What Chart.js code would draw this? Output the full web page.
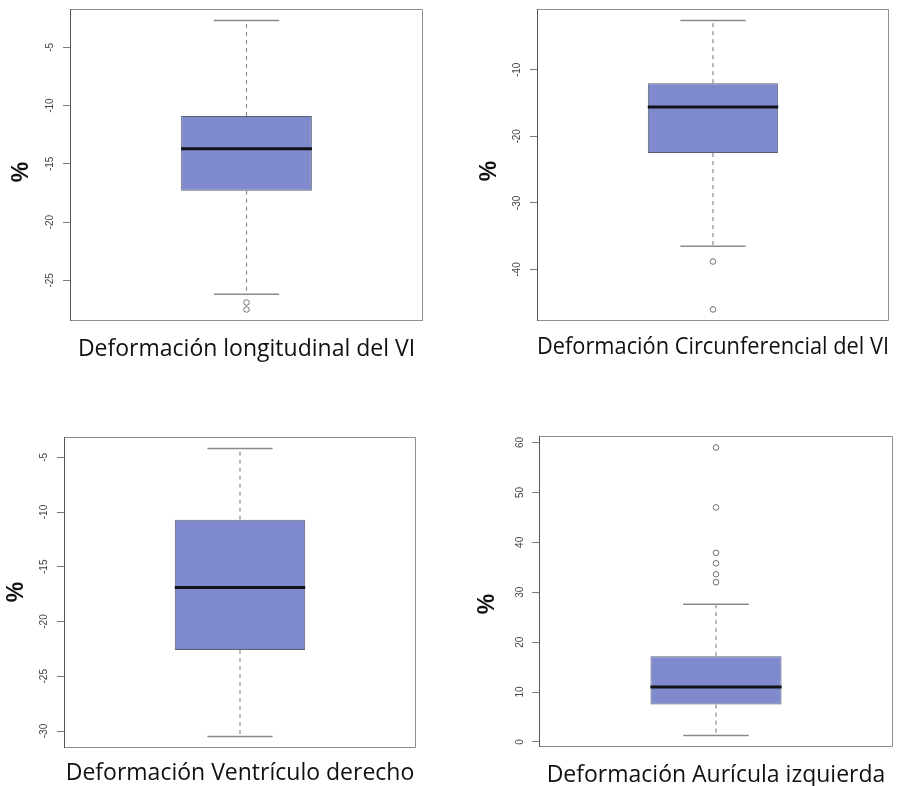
<!DOCTYPE html>
<html>
<head>
<meta charset="utf-8">
<title>Deformación miocárdica</title>
<script src="https://cdn.jsdelivr.net/npm/chart.js@4/dist/chart.umd.min.js"></script>
<style>
  html, body { margin: 0; padding: 0; background: #ffffff; }
  body { width: 911px; height: 786px; position: relative; overflow: hidden; }
  canvas { position: absolute; }
</style>
</head>
<body>
<canvas id="c0"></canvas>
<canvas id="c1"></canvas>
<canvas id="c2"></canvas>
<canvas id="c3"></canvas>
<script>
// Box-plot summaries, one entry per panel
const panelTitles = [
  'Deformación longitudinal del VI',
  'Deformación Circunferencial del VI',
  'Deformación Ventrículo derecho',
  'Deformación Aurícula izquierda'
];
const axisLabel = '%';
const lowerWhisker = [-26.2, -36.5, -30.5, 1.3];
const q1           = [-17.3, -22.5, -22.6, 7.5];
const median       = [-13.7, -15.6, -16.9, 11.0];
const q3           = [-10.9, -12.0, -10.7, 17.2];
const upperWhisker = [-2.7, -2.6, -4.2, 27.6];
const outliers = [
  [-26.9, -27.5],
  [-38.8, -46.0],
  [],
  [32.0, 33.6, 35.8, 37.9, 47.0, 59.0]
];
const yTicks = [
  [-5, -10, -15, -20, -25],
  [-10, -20, -30, -40],
  [-5, -10, -15, -20, -25, -30],
  [0, 10, 20, 30, 40, 50, 60]
];

// Panel placement on the page: canvas box, plot area inside it, label anchors
const panels = [
  { id: 'c0', left: 0,   top: 0,   w: 455, h: 390, area: [70, 9, 423, 321],  pctX: 22, pctY: 172, titleMid: 349 },
  { id: 'c1', left: 460, top: 0,   w: 451, h: 390, area: [77, 9, 429, 321],  pctX: 30, pctY: 171, titleMid: 347 },
  { id: 'c2', left: 0,   top: 420, w: 455, h: 366, area: [64, 17, 416, 328], pctX: 17, pctY: 172, titleMid: 353 },
  { id: 'c3', left: 460, top: 420, w: 451, h: 366, area: [79, 16, 433, 327], pctX: 28, pctY: 184, titleMid: 355 }
];

// Box is 0.4 wide on an x range of 1 widened by 4% each side; staples are half that
const BOX_HALF = 0.2 / 1.08;
const CAP_HALF = 0.1 / 1.08;
const BOX_FRAC = 2 * BOX_HALF;

const BOX_FILL = '#7F8ACE';
const WHISKER = '#8a8a8a';
const TITLE_FONT = { family: 'Open Sans', size: 23, lineHeight: 1.2 };

// y limits: data extremes widened by 4%
function yRange(i) {
  const vals = [lowerWhisker[i], upperWhisker[i], ...outliers[i]];
  const lo = Math.min(...vals), hi = Math.max(...vals);
  const pad = (hi - lo) * 0.04;
  return [lo - pad, hi + pad];
}

// Plot frame (darker on the axis side) and the rotated "%" label
const panelDecor = {
  id: 'panelDecor',
  beforeDatasetsDraw(chart) {
    const { ctx, chartArea: a } = chart;
    ctx.save();
    ctx.lineWidth = 1;
    ctx.strokeStyle = '#8f8f8f';
    ctx.beginPath();
    ctx.moveTo(a.left, a.top + 0.5);
    ctx.lineTo(a.right - 0.5, a.top + 0.5);
    ctx.lineTo(a.right - 0.5, a.bottom - 0.5);
    ctx.lineTo(a.left, a.bottom - 0.5);
    ctx.stroke();
    ctx.strokeStyle = '#555';
    ctx.beginPath();
    ctx.moveTo(a.left + 0.5, a.top);
    ctx.lineTo(a.left + 0.5, a.bottom);
    ctx.stroke();
    ctx.restore();
  },
  afterDraw(chart, args, opts) {
    const ctx = chart.ctx;
    ctx.save();
    ctx.translate(opts.x, opts.y);
    ctx.rotate(-Math.PI / 2);
    ctx.font = 'bold 23px "Liberation Sans", Arial, sans-serif';
    ctx.fillStyle = '#111';
    ctx.textAlign = 'center';
    ctx.textBaseline = 'middle';
    ctx.fillText(opts.text, 0, 0);
    ctx.restore();
  }
};

panels.forEach((P, i) => {
  const cv = document.getElementById(P.id);
  cv.width = P.w;
  cv.height = P.h;
  cv.style.left = P.left + 'px';
  cv.style.top = P.top + 'px';
  const [aL, aT, aR, aB] = P.area;
  const [ymin, ymax] = yRange(i);
  const titlePadBottom = P.h - P.titleMid - TITLE_FONT.size * TITLE_FONT.lineHeight / 2;

  const lineSet = (points, extra) => Object.assign({
    type: 'line', xAxisID: 'x2', data: points,
    pointRadius: 0, fill: false, tension: 0, borderCapStyle: 'butt'
  }, extra);

  new Chart(cv, {
    type: 'bar',
    data: {
      labels: [panelTitles[i]],
      datasets: [
        // median
        lineSet([{ x: 0.5 - BOX_HALF, y: median[i] }, { x: 0.5 + BOX_HALF, y: median[i] }],
                { borderColor: '#111318', borderWidth: 3, order: 0 }),
        // outlying points
        { type: 'scatter', xAxisID: 'x2', data: outliers[i].map(v => ({ x: 0.5, y: v })),
          pointRadius: 2.8, pointBorderWidth: 1, pointBorderColor: '#6e6e6e',
          pointBackgroundColor: 'rgba(0,0,0,0)', order: 1 },
        // staples
        lineSet([{ x: 0.5 - CAP_HALF, y: upperWhisker[i] }, { x: 0.5 + CAP_HALF, y: upperWhisker[i] }],
                { borderColor: WHISKER, borderWidth: 1.5, order: 2 }),
        lineSet([{ x: 0.5 - CAP_HALF, y: lowerWhisker[i] }, { x: 0.5 + CAP_HALF, y: lowerWhisker[i] }],
                { borderColor: WHISKER, borderWidth: 1.5, order: 2 }),
        // dashed whiskers
        lineSet([{ x: 0.5, y: q3[i] }, { x: 0.5, y: upperWhisker[i] }],
                { borderColor: WHISKER, borderWidth: 1.2, borderDash: [4, 4], order: 3 }),
        lineSet([{ x: 0.5, y: q1[i] }, { x: 0.5, y: lowerWhisker[i] }],
                { borderColor: WHISKER, borderWidth: 1.2, borderDash: [4, 4], order: 3 }),
        // interquartile box
        { type: 'bar', xAxisID: 'x', data: [[q1[i], q3[i]]], grouped: false,
          backgroundColor: BOX_FILL, borderColor: '#5c6072', borderWidth: 1,
          borderSkipped: false, barPercentage: BOX_FRAC, categoryPercentage: 1, order: 5 }
      ]
    },
    options: {
      responsive: false,
      animation: false,
      events: [],
      devicePixelRatio: 1,
      layout: { padding: { left: 0, top: aT, right: P.w - aR, bottom: 0 } },
      plugins: {
        legend: { display: false },
        tooltip: { enabled: false },
        panelDecor: { x: P.pctX, y: P.pctY, text: axisLabel }
      },
      scales: {
        x: {
          type: 'category',
          offset: true,
          grid: { display: false },
          border: { display: false },
          ticks: { display: false },
          title: {
            display: true, text: panelTitles[i], color: '#111',
            font: TITLE_FONT, padding: { top: 0, bottom: titlePadBottom }
          },
          afterFit: s => { s.height = P.h - aB; s.paddingLeft = 0; s.paddingRight = 0; }
        },
        x2: { type: 'linear', display: false, offset: false, min: 0, max: 1, grid: { offset: false } },
        y: {
          min: ymin, max: ymax,
          afterBuildTicks: s => { s.ticks = yTicks[i].map(v => ({ value: v })); },
          grid: { drawOnChartArea: false, drawTicks: true, tickLength: 7, color: '#7a7a7a' },
          border: { display: false },
          ticks: {
            minRotation: 90, maxRotation: 90, crossAlign: 'center', padding: 6,
            font: { family: 'Liberation Sans', size: 10 }, color: '#444',
            callback: v => String(v)
          },
          afterFit: s => { s.width = aL; s.paddingTop = 0; s.paddingBottom = 0; }
        }
      }
    },
    plugins: [panelDecor]
  });
});
</script>
</body>
</html>
